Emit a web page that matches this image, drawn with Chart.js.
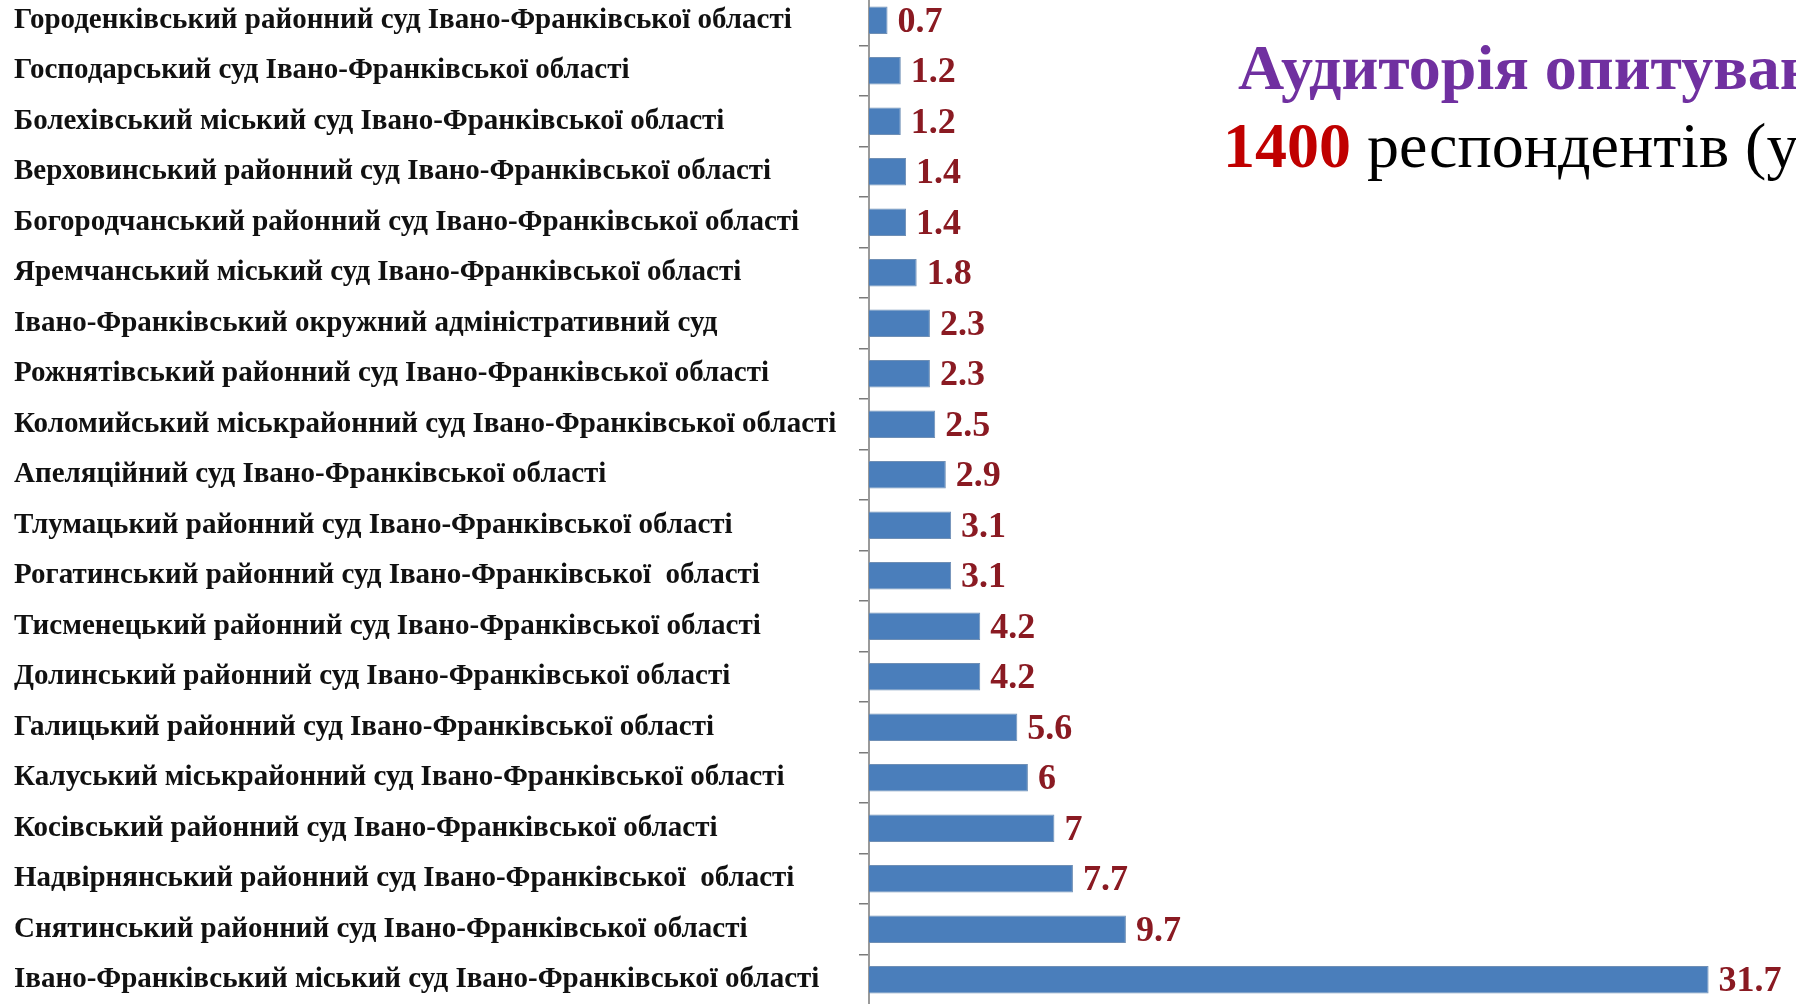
<!DOCTYPE html>
<html>
<head>
<meta charset="utf-8">
<script src="https://cdn.jsdelivr.net/npm/chart.js@4.4.0/dist/chart.umd.min.js"></script>
<style>
  html, body { margin: 0; padding: 0; background: #fff; overflow: hidden; }
  body { width: 1796px; height: 1004px; position: relative; }
  #wrap { position: absolute; left: 0; top: -5px; width: 1796px; height: 1010px; }
  .title { position: absolute; white-space: nowrap; font-family: "Liberation Serif", "Times New Roman", serif; font-size: 64px; line-height: 1; }
  #t1 { left: 1238px; top: 36px; color: #7030a0; font-weight: bold; }
  #t2 { left: 1223px; top: 114px; color: #000; }
  #t2 b { color: #c00000; }
</style>
</head>
<body>
<div id="wrap"><canvas id="chart"></canvas></div>
<div class="title" id="t1">Аудиторія опитування:</div>
<div class="title" id="t2"><b>1400</b> респондентів (у</div>
<script>
const courts = [
  'Городенківський районний суд Івано-Франківської області',
  'Господарський суд Івано-Франківської області',
  'Болехівський міський суд Івано-Франківської області',
  'Верховинський районний суд Івано-Франківської області',
  'Богородчанський районний суд Івано-Франківської області',
  'Яремчанський міський суд Івано-Франківської області',
  'Івано-Франківський окружний адміністративний суд',
  'Рожнятівський районний суд Івано-Франківської області',
  'Коломийський міськрайонний суд Івано-Франківської області',
  'Апеляційний суд Івано-Франківської області',
  'Тлумацький районний суд Івано-Франківської області',
  'Рогатинський районний суд Івано-Франківської  області',
  'Тисменецький районний суд Івано-Франківської області',
  'Долинський районний суд Івано-Франківської області',
  'Галицький районний суд Івано-Франківської області',
  'Калуський міськрайонний суд Івано-Франківської області',
  'Косівський районний суд Івано-Франківської області',
  'Надвірнянський районний суд Івано-Франківської  області',
  'Снятинський районний суд Івано-Франківської області',
  'Івано-Франківський міський суд Івано-Франківської області'
];
const shares = [0.7, 1.2, 1.2, 1.4, 1.4, 1.8, 2.3, 2.3, 2.5, 2.9, 3.1, 3.1, 4.2, 4.2, 5.6, 6, 7, 7.7, 9.7, 31.7];

// values written just right of each bar
const valueLabels = {
  id: 'valueLabels',
  afterDatasetsDraw(chart) {
    const ctx = chart.ctx;
    const meta = chart.getDatasetMeta(0);
    ctx.save();
    ctx.font = 'bold 36px "Liberation Serif", serif';
    ctx.fillStyle = '#8a1a22';
    ctx.textAlign = 'left';
    ctx.textBaseline = 'middle';
    meta.data.forEach((bar, i) => {
      ctx.fillText(String(shares[i]), bar.x + 10, bar.y + 2);
    });
    ctx.restore();
  }
};

new Chart(document.getElementById('chart'), {
  type: 'bar',
  data: {
    labels: courts,
    datasets: [{
      data: shares,
      backgroundColor: '#4a7ebb',
      borderColor: '#6f8fb5',
      borderWidth: 1,
      barPercentage: 0.54,
      categoryPercentage: 1
    }]
  },
  options: {
    indexAxis: 'y',
    responsive: true,
    maintainAspectRatio: false,
    animation: false,
    layout: { padding: { left: 14, right: 0, top: 0, bottom: 0 } },
    scales: {
      x: {
        display: false,
        min: 0,
        max: 35
      },
      y: {
        afterFit: (axis) => {
          axis.width = 855;
          axis.paddingTop = 0;
          axis.paddingBottom = 0;
        },
        grid: {
          drawOnChartArea: false,
          drawTicks: true,
          tickLength: 10,
          color: '#7a7a7a',
          lineWidth: 1.5
        },
        border: { display: true, color: '#9a9a9a', width: 2 },
        ticks: {
          crossAlign: 'far',
          color: '#111',
          font: { family: '"Liberation Serif", serif', size: 29, weight: 'bold' }
        }
      }
    },
    plugins: {
      legend: { display: false },
      tooltip: { enabled: false }
    }
  },
  plugins: [valueLabels]
});
</script>
</body>
</html>
